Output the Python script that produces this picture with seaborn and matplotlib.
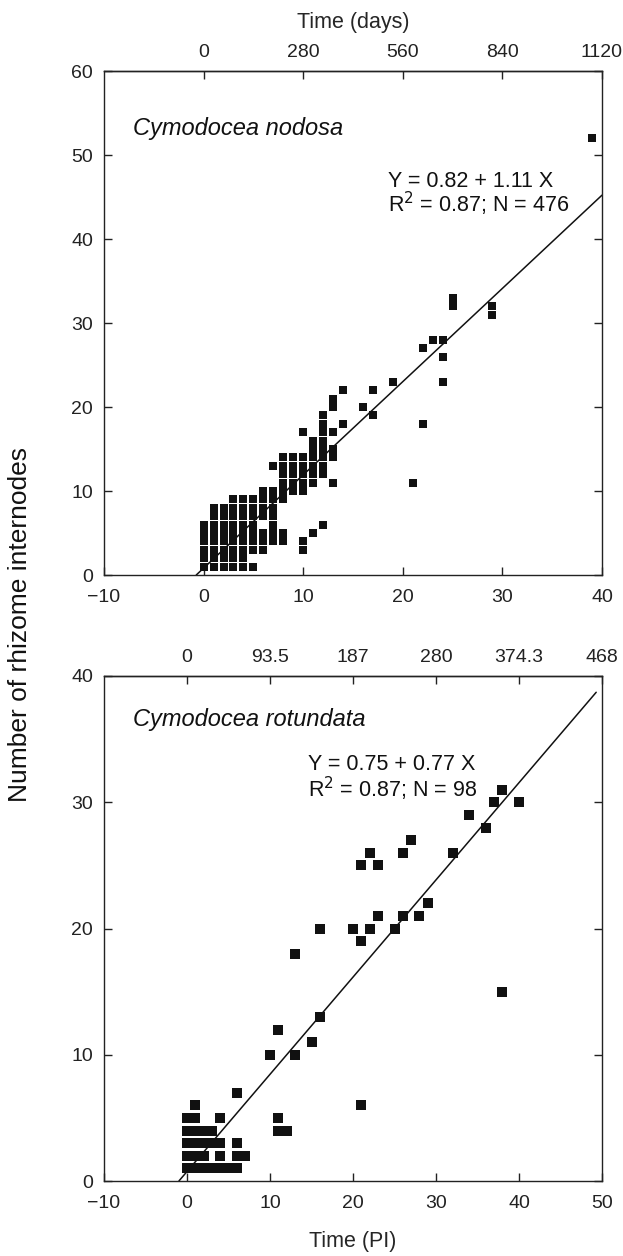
import seaborn as sns
import matplotlib.pyplot as plt
import numpy as np
import pandas as pd

sns.set_style('ticks')
plt.rcParams['font.family'] = ['Liberation Sans', 'DejaVu Sans']
plt.rcParams['axes.unicode_minus'] = True

# Cymodocea nodosa: plastochrone intervals (PI) vs number of internodes
nodosa_x = [0, 0, 0, 0, 0, 0,
            1, 1, 1, 1, 1, 1, 1, 1,
            2, 2, 2, 2, 2, 2, 2, 2,
            3, 3, 3, 3, 3, 3, 3, 3, 3,
            4, 4, 4, 4, 4, 4, 4, 4, 4,
            5, 5, 5, 5, 5, 5, 5, 5,
            6, 6, 6, 6, 6, 6, 6,
            7, 7, 7, 7, 7, 7, 7, 7,
            8, 8, 8, 8, 8, 8, 8, 8,
            9, 9, 9, 9, 9,
            10, 10, 10, 10, 10, 10, 10, 10,
            11, 11, 11, 11, 11, 11, 11,
            12, 12, 12, 12, 12, 12, 12, 12, 12,
            13, 13, 13, 13, 13, 13,
            14, 14, 16, 17, 17, 19, 21, 22, 22, 23, 24, 24, 24, 25, 25, 29, 29, 39]
nodosa_y = [1, 2, 3, 4, 5, 6,
            1, 2, 3, 4, 5, 6, 7, 8,
            1, 2, 3, 4, 5, 6, 7, 8,
            1, 2, 3, 4, 5, 6, 7, 8, 9,
            1, 2, 3, 4, 5, 6, 7, 8, 9,
            1, 3, 4, 5, 6, 7, 8, 9,
            3, 4, 5, 7, 8, 9, 10,
            4, 5, 6, 7, 8, 9, 10, 13,
            4, 5, 9, 10, 11, 12, 13, 14,
            10, 11, 12, 13, 14,
            3, 4, 10, 11, 12, 13, 14, 17,
            5, 11, 12, 13, 14, 15, 16,
            6, 12, 13, 14, 15, 16, 17, 18, 19,
            11, 14, 15, 17, 20, 21,
            18, 22, 20, 19, 22, 23, 11, 18, 27, 28, 23, 26, 28, 32, 33, 31, 32, 52]

# Cymodocea rotundata
rotundata_x = [0, 1, 2, 3, 4, 5, 6,
               0, 1, 2, 4, 6, 7,
               0, 1, 2, 3, 4, 6,
               0, 1, 2, 3, 11, 12,
               0, 1, 4, 11,
               1, 21, 6, 10, 13, 15, 11, 16, 38, 13, 21,
               16, 20, 22, 25, 23, 26, 28, 29, 21, 23,
               22, 26, 32, 27, 36, 34, 37, 40, 38]
rotundata_y = [1, 1, 1, 1, 1, 1, 1,
               2, 2, 2, 2, 2, 2,
               3, 3, 3, 3, 3, 3,
               4, 4, 4, 4, 4, 4,
               5, 5, 5, 5,
               6, 6, 7, 10, 10, 11, 12, 13, 15, 18, 19,
               20, 20, 20, 20, 21, 21, 21, 22, 25, 25,
               26, 26, 26, 27, 28, 29, 30, 30, 31]

# regression fits: intercept, slope, x-range of the drawn line
nodosa_fit = (0.82, 1.11, -0.74, 40)
rotundata_fit = (0.75, 0.77, -0.97, 49.3)

nodosa_days = ['0', '280', '560', '840', '1120']
rotundata_days = ['0', '93.5', '187', '280', '374.3', '468']

df_nod = pd.DataFrame({'pi': nodosa_x, 'n': nodosa_y})
df_rot = pd.DataFrame({'pi': rotundata_x, 'n': rotundata_y})

fig = plt.figure(figsize=(6.23, 12.56), dpi=100)
ax1 = fig.add_axes([104 / 623, 1 - 575 / 1256, 498 / 623, 504 / 1256])
ax2 = fig.add_axes([104 / 623, 1 - 1181 / 1256, 498 / 623, 505 / 1256])


def panel(ax, df, fit, xmax, ymax, days, name, eq1, eq2, eqpos, namey, msize):
    sns.scatterplot(data=df, x='pi', y='n', ax=ax, marker='s', s=msize,
                    color='#111111', linewidth=0, legend=False, zorder=3)
    a, b, x0, x1 = fit
    xl = np.array([x0, x1])
    ax.plot(xl, a + b * xl, color='#111111', lw=1.1, zorder=2)
    ax.set_xlim(-10, xmax)
    ax.set_ylim(0, ymax)
    ax.set_xticks(np.arange(-10, xmax + 1, 10))
    ax.set_yticks(np.arange(0, ymax + 1, 10))
    ax.set_xlabel('')
    ax.set_ylabel('')
    ax.tick_params(direction='in', length=6, width=1, labelsize=14, color='#222222',
                   labelcolor='#222222', top=False, right=True)
    ax.tick_params(axis='x', pad=10)
    ax.tick_params(axis='y', pad=8)
    for sp in ax.spines.values():
        sp.set_linewidth(1.0)
        sp.set_color('#222222')
    sec = ax.secondary_xaxis('top')
    sec.set_xticks(np.arange(0, xmax + 1, 10), labels=days)
    sec.tick_params(direction='in', length=6, width=1, labelsize=14, pad=7.5,
                    color='#222222', labelcolor='#222222')
    sec.spines['top'].set_linewidth(1.0)
    sec.spines['top'].set_color('#222222')
    ax.text(0.058, namey, name, transform=ax.transAxes, fontsize=17, style='italic',
            va='center', ha='left', color='#111111')
    ax.text(eqpos[0], eqpos[1], eq1, transform=ax.transAxes, fontsize=15.5,
            va='center', ha='left', color='#111111')
    ax.text(eqpos[0], eqpos[2], eq2, transform=ax.transAxes, fontsize=15.5,
            va='center', ha='left', color='#111111')
    return sec


sec1 = panel(ax1, df_nod, nodosa_fit, 40, 60, nodosa_days, 'Cymodocea nodosa',
             'Y = 0.82 + 1.11 X', 'R$^2$ = 0.87; N = 476', (0.57, 0.78, 0.736), 0.885, 40)
sec1.set_xlabel('Time (days)', fontsize=15.5, labelpad=11)

panel(ax2, df_rot, rotundata_fit, 50, 40, rotundata_days, 'Cymodocea rotundata',
      'Y = 0.75 + 0.77 X', 'R$^2$ = 0.87; N = 98', (0.41, 0.824, 0.776), 0.913, 42)
ax2.set_xlabel('Time (PI)', fontsize=15.5, labelpad=14)

fig.text(20 / 623, 1 - 625 / 1256, 'Number of rhizome internodes', rotation=90,
         fontsize=19, va='center', ha='center', color='#111111')

fig.savefig('out.png', dpi=100)
